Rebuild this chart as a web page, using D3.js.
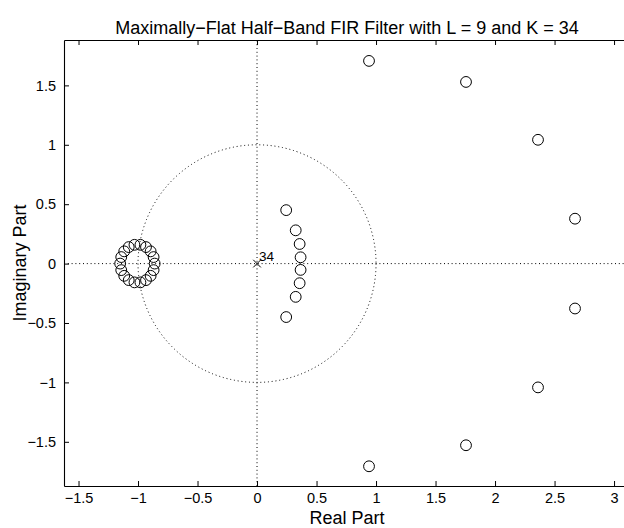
<!DOCTYPE html>
<html>
<head>
<meta charset="utf-8">
<script src="https://cdn.jsdelivr.net/npm/d3@7"></script>
<style>
  html, body { margin: 0; padding: 0; background: #fff; }
  svg text { font-family: "Liberation Sans", Arial, Helvetica, sans-serif; fill: #000; }
</style>
</head>
<body>
<svg id="chart" width="624" height="528"></svg>
<script>
// Zeros of the filter (real and imaginary parts)
const zeroRe = [
  -0.860, -0.869, -0.869, -0.894, -0.894, -0.933, -0.933, -0.980, -0.980,
  -1.030, -1.030, -1.078, -1.078, -1.116, -1.116, -1.141, -1.141, -1.150,
  0.245, 0.245, 0.325, 0.325, 0.358, 0.358, 0.366, 0.366,
  0.941, 0.941, 1.756, 1.756, 2.361, 2.361, 2.672, 2.672
];
const zeroIm = [
  0.000, 0.055, -0.055, 0.103, -0.103, 0.139, -0.139, 0.158, -0.158,
  0.158, -0.158, 0.139, -0.139, 0.103, -0.103, 0.055, -0.055, 0.000,
  0.450, -0.450, 0.280, -0.280, 0.165, -0.165, 0.053, -0.053,
  1.706, -1.706, 1.529, -1.529, 1.042, -1.042, 0.378, -0.378
];
// Poles (all at the origin) and their multiplicity label
const poleRe = [0];
const poleIm = [0];
const poleCount = ["34"];

const xTicks = [-1.5, -1, -0.5, 0, 0.5, 1, 1.5, 2, 2.5, 3];
const yTicks = [-1.5, -1, -0.5, 0, 0.5, 1, 1.5];
const xDomain = [-1.622, 3.134];
const yDomain = [-1.872, 1.882];

const titleText = "Maximally\u2212Flat Half\u2212Band FIR Filter with L = 9 and K = 34";
const xLabel = "Real Part";
const yLabel = "Imaginary Part";

const box = { left: 64, right: 630, top: 40, bottom: 486 };

const svg = d3.select("#chart");
const x = d3.scaleLinear().domain(xDomain).range([box.left, box.right]);
const y = d3.scaleLinear().domain(yDomain).range([box.bottom, box.top]);

const fmt = v => (v < 0 ? "\u2212" : "") + Math.abs(v);

const plot = svg.append("g");

// unit circle and the two axis lines, dotted
const dot = "1,2.8";
plot.append("ellipse")
  .attr("cx", x(0)).attr("cy", y(0))
  .attr("rx", x(1) - x(0)).attr("ry", y(0) - y(1))
  .attr("fill", "none").attr("stroke", "#000").attr("stroke-width", 1)
  .attr("stroke-dasharray", dot);
plot.append("line")
  .attr("x1", x(xDomain[0])).attr("x2", x(xDomain[1]))
  .attr("y1", y(0)).attr("y2", y(0))
  .attr("stroke", "#000").attr("stroke-dasharray", dot);
plot.append("line")
  .attr("x1", x(0)).attr("x2", x(0))
  .attr("y1", y(yDomain[0])).attr("y2", y(yDomain[1]))
  .attr("stroke", "#000").attr("stroke-dasharray", dot);

// zeros
plot.selectAll("circle.zero")
  .data(d3.range(zeroRe.length))
  .join("circle")
  .attr("class", "zero")
  .attr("cx", i => x(zeroRe[i]))
  .attr("cy", i => y(zeroIm[i]))
  .attr("r", 5.4)
  .attr("fill", "none")
  .attr("stroke", "#000")
  .attr("stroke-width", 1);

// poles
const s = 3.8;
poleRe.forEach((re, i) => {
  const px = x(re), py = y(poleIm[i]);
  plot.append("path")
    .attr("d", `M${px - s},${py - s}L${px + s},${py + s}M${px - s},${py + s}L${px + s},${py - s}`)
    .attr("stroke", "#000").attr("stroke-width", 1).attr("fill", "none");
  plot.append("text")
    .attr("x", px + 2).attr("y", py - 3)
    .attr("font-size", 13.5)
    .text(poleCount[i]);
});

// axes with inward ticks on all four sides
const tick = 5;
const gx = svg.append("g").attr("transform", `translate(0,${box.bottom})`)
  .call(d3.axisBottom(x).tickValues(xTicks).tickFormat(fmt).tickSizeInner(-tick).tickSizeOuter(0).tickPadding(7));
const gxt = svg.append("g").attr("transform", `translate(0,${box.top})`)
  .call(d3.axisTop(x).tickValues(xTicks).tickFormat("").tickSizeInner(-tick).tickSizeOuter(0));
const gy = svg.append("g").attr("transform", `translate(${box.left},0)`)
  .call(d3.axisLeft(y).tickValues(yTicks).tickFormat(fmt).tickSizeInner(-tick).tickSizeOuter(0).tickPadding(8));
const gyr = svg.append("g").attr("transform", `translate(${box.right},0)`)
  .call(d3.axisRight(y).tickValues(yTicks).tickFormat("").tickSizeInner(-tick).tickSizeOuter(0));

[gx, gxt, gy, gyr].forEach(g => {
  g.selectAll("path.domain").attr("stroke", "#000").attr("stroke-width", 1.1);
  g.selectAll(".tick line").attr("stroke", "#000");
  g.selectAll("text").attr("font-size", 14.5)
    .attr("font-family", '"Liberation Sans", Arial, Helvetica, sans-serif').attr("fill", "#000");
});

// title and axis labels
svg.append("text")
  .attr("x", (box.left + box.right) / 2).attr("y", 34)
  .attr("text-anchor", "middle").attr("font-size", 18)
  .text(titleText);
svg.append("text")
  .attr("x", (box.left + box.right) / 2).attr("y", 524)
  .attr("text-anchor", "middle").attr("font-size", 18)
  .text(xLabel);
svg.append("text")
  .attr("transform", `translate(26,${(box.top + box.bottom) / 2}) rotate(-90)`)
  .attr("text-anchor", "middle").attr("font-size", 18)
  .text(yLabel);
</script>
</body>
</html>
